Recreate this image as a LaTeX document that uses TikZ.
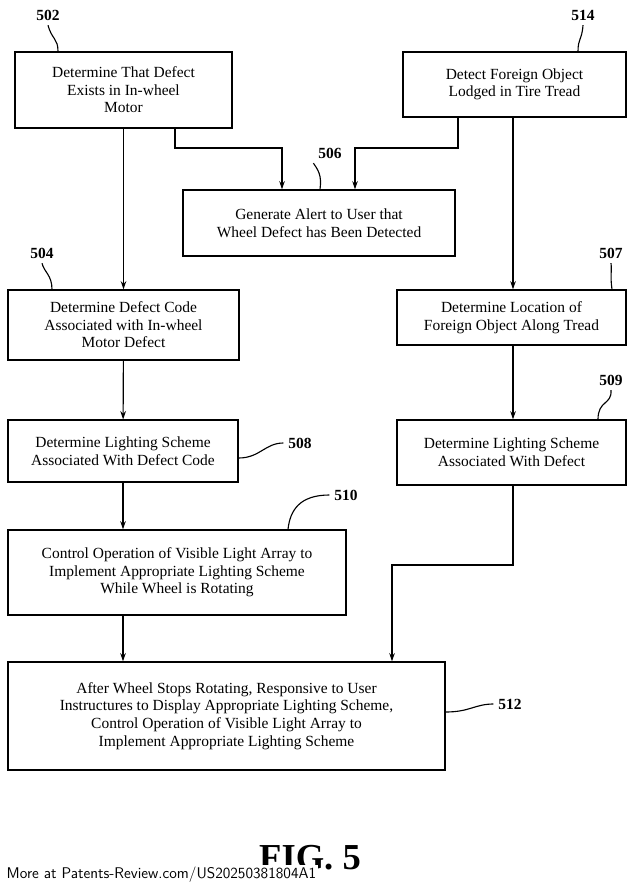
\documentclass[tikz,border=0pt]{standalone}
\usepackage{fontspec}
\setmainfont{Liberation Serif}
\usetikzlibrary{arrows.meta}

\begin{document}
\begin{tikzpicture}[x=0.025cm,y=-0.025cm,
	box/.style={draw,thick,align=center,font=\fontsize{11}{12.5}\selectfont},
	lbl/.style={font=\bfseries\fontsize{11}{12}\selectfont},
	flow/.style={thick,-{Stealth[length=6pt,width=4pt]}},
	lead/.style={thick}]

	\useasboundingbox (0,0) rectangle (636,888);

	% boxes
	\node (b502) [box,minimum width=217*0.025cm,minimum height=76*0.025cm] at (123.5,90) {Determine That Defect\\Exists in In-wheel\\Motor};
	\node (b514) [box,minimum width=223*0.025cm,minimum height=65*0.025cm] at (514.5,84.5) {Detect Foreign Object\\Lodged in Tire Tread};
	\node (b506) [box,minimum width=272*0.025cm,minimum height=66*0.025cm] at (319,223) {Generate Alert to User that\\Wheel Defect has Been Detected};
	\node (b504) [box,minimum width=231*0.025cm,minimum height=70*0.025cm] at (123.5,325) {Determine Defect Code\\Associated with In-wheel\\Motor Defect};
	\node (b507) [box,minimum width=229*0.025cm,minimum height=55*0.025cm] at (511.5,317.5) {Determine Location of\\Foreign Object Along Tread};
	\node (b508) [box,minimum width=230*0.025cm,minimum height=62*0.025cm] at (123,451) {Determine Lighting Scheme\\Associated With Defect Code};
	\node (b509) [box,minimum width=229*0.025cm,minimum height=65*0.025cm] at (511.5,452.5) {Determine Lighting Scheme\\Associated With Defect};
	\node (b510) [box,minimum width=338*0.025cm,minimum height=85*0.025cm] at (177,572.5) {Control Operation of Visible Light Array to\\Implement Appropriate Lighting Scheme\\While Wheel is Rotating};
	\node (b512) [box,minimum width=437*0.025cm,minimum height=108*0.025cm] at (226.5,716) {After Wheel Stops Rotating, Responsive to User\\Instructures to Display Appropriate Lighting Scheme,\\Control Operation of Visible Light Array to\\Implement Appropriate Lighting Scheme};

	% flow
	\draw[flow] (b502) -- (b504);
	\draw[flow] (b502.south -| 175,0) |- (282,148) -- (b506.north -| 282,0);
	\draw[flow] (b514.south -| 458,0) |- (355,148) -- (b506.north -| 355,0);
	\draw[flow] (b514.south -| 513,0) -- (b507.north -| 513,0);
	\draw[flow] (b504) -- (b508);
	\draw[flow] (b507.south -| 513,0) -- (b509.north -| 513,0);
	\draw[flow] (b508) -- (b508 |- b510.north);
	\draw[flow] (b509.south -| 513,0) |- (392,565) -- (b512.north -| 392,0);
	\draw[flow] (b510.south -| 123,0) -- (b512.north -| 123,0);

	% reference labels
	\node (n502) [lbl] at (48,15) {502};
	\node (n514) [lbl] at (583,15) {514};
	\node (n506) [lbl] at (330,153) {506};
	\node (n504) [lbl] at (42,253) {504};
	\node (n507) [lbl] at (611,253) {507};
	\node (n509) [lbl] at (611,380) {509};
	\node (n508) [lbl] at (300,443) {508};
	\node (n510) [lbl] at (346,495) {510};
	\node (n512) [lbl] at (510,704) {512};

	\draw[lead] (n502.south) .. controls (52,40) and (58,38) .. (b502.north -| 58,0);
	\draw[lead] (n514.south) .. controls (582,40) and (578,38) .. (b514.north -| 578,0);
	\draw[lead] (n506.south west) .. controls (318,170) and (322,175) .. (b506.north -| 320,0);
	\draw[lead] (n504.south) .. controls (44,272) and (52,275) .. (b504.north -| 52,0);
	\draw[lead] (n507.south) .. controls (612,272) and (610,275) .. (b507.north -| 612,0);
	\draw[lead] (n509.south) .. controls (612,405) and (598,400) .. (b509.north -| 598,0);
	\draw[lead] (b508.east |- 0,458) .. controls (260,458) and (265,443) .. (n508.west);
	\draw[lead] (n510.west) .. controls (300,495) and (290,510) .. (b510.north -| 288,0);
	\draw[lead] (b512.east |- 0,712) .. controls (470,712) and (475,704) .. (n512.west);

	\node (fig) [font=\bfseries\fontsize{26}{28}\selectfont] at (310,858) {FIG. 5};
	\node (src) [anchor=south west,font=\sffamily\fontsize{11}{12}\selectfont,fill=white,inner sep=1pt] at (5,884) {More at Patents-Review.com/US20250381804A1};
\end{tikzpicture}
\end{document}
